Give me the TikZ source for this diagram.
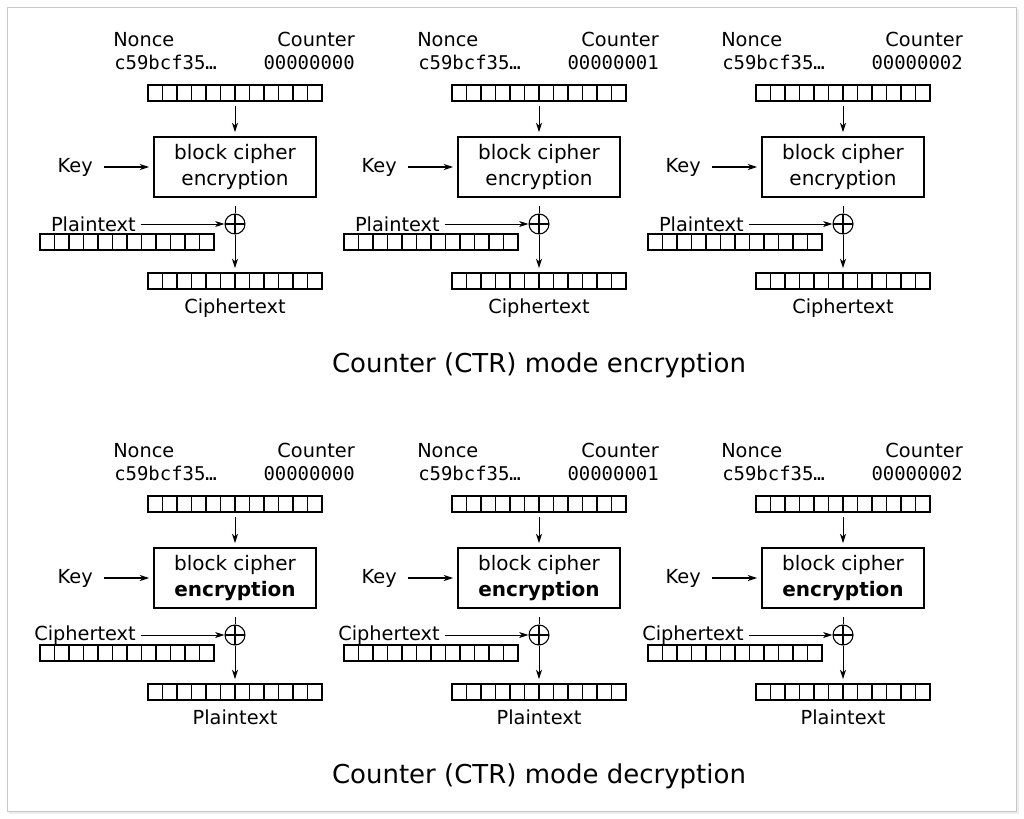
\documentclass[tikz,border=0pt]{standalone}
\usepackage{fontspec}
\setmainfont{DejaVu Sans}
\setmonofont{DejaVu Sans Mono}
\usetikzlibrary{arrows.meta,positioning}

\tikzset{
  lbl/.style={inner sep=0pt, font=\fontsize{14.5}{17}\selectfont},
  hexlbl/.style={inner sep=0pt, font=\ttfamily\fontsize{14.2}{17}\selectfont},
  titlelbl/.style={inner sep=0pt, font=\fontsize{19.5}{23}\selectfont},
  cipherbox/.style={draw, line width=1.3pt, minimum width=121.5pt, minimum height=45pt,
    inner sep=0pt, align=center, font=\fontsize{15}{19.5}\selectfont},
  reg/.style={draw, line width=1.4pt, minimum width=130.5pt, minimum height=12pt, inner sep=0pt,
    path picture={\foreach \k in {1,...,11}
      \draw[line width=1.3pt] ([xshift=\k*10.875pt]path picture bounding box.south west)
        -- ([xshift=\k*10.875pt]path picture bounding box.north west);}},
  xorop/.style={circle, draw, line width=0.8pt, minimum size=15pt, inner sep=0pt,
    path picture={\draw[line width=0.8pt] (path picture bounding box.north) -- (path picture bounding box.south)
      (path picture bounding box.west) -- (path picture bounding box.east);}},
  flow/.style={->, line width=0.75pt},
  keyflow/.style={->, line width=1.4pt},
}

\begin{document}
\begin{tikzpicture}[x=0.75pt, y=-0.75pt, >={Stealth[length=7pt,width=4.5pt,inset=2pt]}]
  \useasboundingbox (0,0) rectangle (1024,818);
  \fill[black!7] (9,9) rectangle (1019,814);                                %Frame shadow
  \draw[black!22, fill=white, line width=0.75pt] (7,7) rectangle (1016,811); %Frame

  \foreach \r/\inp/\outp/\enc in {0/Plaintext/Ciphertext/encryption, 1/Ciphertext/Plaintext/\textbf{encryption}}
  \foreach \c in {0,1,2} {
  \begin{scope}[shift={(304*\c,411*\r)}]
    \node[lbl, anchor=base west] (nonce\c\r) at (113,46) {Nonce};          %Nonce label
    \node[lbl, anchor=base east] (count\c\r) at (355,46) {Counter};        %Counter label
    \node[hexlbl, anchor=base west] (nval\c\r) at (114,69) {c59bcf35…};
    \node[hexlbl, anchor=base east] (cval\c\r) at (355,69) {0000000\c};

    \node[reg] (ctr\c\r) at (235,93) {};                                    %Counter block
    \node[cipherbox] (enc\c\r) at (235,167) {block cipher\\\enc};          %Cipher
    \node[lbl, anchor=east] (key\c\r) at (93,167) {Key};
    \node[xorop] (xor\c\r) at (235,224) {};                                 %XOR
    \node[lbl, anchor=east] (in\c\r) at (136,224) {\inp};
    \node[reg] (inreg\c\r) at (127,242) {};                                 %Input block
    \node[reg] (out\c\r) at (235,281) {};                                   %Output block
    \node[lbl, anchor=base] (outlbl\c\r) at (235,313) {\outp};

    \draw[flow, shorten <=3pt, shorten >=3pt] (ctr\c\r) -- (enc\c\r);
    \draw[keyflow, shorten <=8pt, shorten >=3pt] (key\c\r) -- (enc\c\r);
    \draw[flow, shorten <=3.5pt] (in\c\r) -- (xor\c\r);
    \draw[line width=0.75pt, shorten <=6pt] (enc\c\r) -- (xor\c\r);
    \draw[flow, shorten >=3pt] (xor\c\r) -- (out\c\r);
  \end{scope}
  }

  \node[titlelbl, anchor=base] (encttl) at (539,372) {Counter (CTR) mode encryption};
  \node[titlelbl, anchor=base] (decttl) at (539,783) {Counter (CTR) mode decryption};
\end{tikzpicture}
\end{document}
